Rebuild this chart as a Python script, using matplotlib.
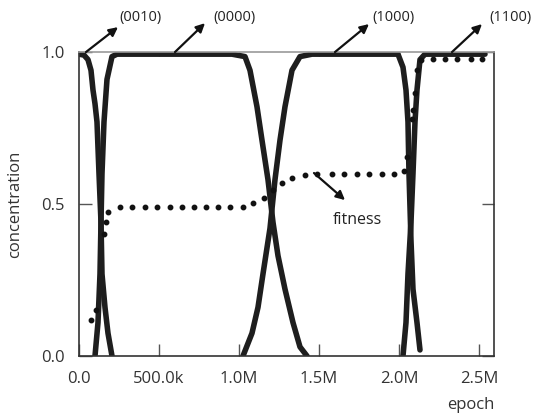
import matplotlib
matplotlib.use("Agg")
import matplotlib.pyplot as plt

plt.rcParams['font.family'] = ['Open Sans', 'DejaVu Sans']

# concentration curves (epoch, concentration)
x_0010 = [0, 31250, 56250, 75000, 87500, 100000, 112500, 125000, 137500, 143750,
          162500, 181250, 206250]
y_0010 = [0.993, 0.99, 0.975, 0.94, 0.875, 0.83, 0.77, 0.6, 0.44, 0.27,
          0.16, 0.075, 0.0]

x_0000 = [100000, 118750, 131250, 137500, 143750, 156250, 175000, 206250, 237500,
          956250, 1037500, 1068750, 1112500, 1143750, 1181250, 1212500, 1243750,
          1287500, 1337500, 1381250, 1425000]
y_0000 = [0.0, 0.11, 0.27, 0.44, 0.6, 0.77, 0.91, 0.985, 0.993,
          0.993, 0.985, 0.94, 0.82, 0.71, 0.58, 0.44, 0.33,
          0.22, 0.11, 0.03, 0.0]

x_1000 = [1025000, 1081250, 1118750, 1150000, 1193750, 1225000, 1256250, 1287500,
          1331250, 1381250, 1456250, 1993750, 2025000, 2043750, 2056250, 2062500,
          2075000, 2087500, 2112500, 2131250]
y_1000 = [0.0, 0.075, 0.16, 0.27, 0.42, 0.58, 0.71, 0.82,
          0.94, 0.985, 0.993, 0.993, 0.95, 0.875, 0.77, 0.6,
          0.38, 0.22, 0.11, 0.02]

x_1100 = [2025000, 2043750, 2056250, 2075000, 2087500, 2100000, 2112500, 2131250,
          2162500, 2537500]
y_1100 = [0.0, 0.11, 0.27, 0.44, 0.6, 0.77, 0.875, 0.975, 0.993, 0.993]

# fitness
x_fit = [75000, 106250, 156250, 168750, 181250, 256250, 331250, 412500, 487500,
         568750, 643750, 718750, 793750, 868750, 943750, 1025000, 1087500, 1156250,
         1212500, 1268750, 1331250, 1412500, 1487500, 1581250, 1656250, 1737500,
         1812500, 1893750, 1968750, 2031250, 2050000, 2081250, 2087500, 2100000,
         2112500, 2137500, 2212500, 2287500, 2362500, 2450000, 2518750]
y_fit = [0.12, 0.15, 0.40, 0.44, 0.475, 0.49, 0.49, 0.49, 0.49,
         0.49, 0.49, 0.49, 0.49, 0.49, 0.49, 0.49, 0.505, 0.52,
         0.545, 0.57, 0.585, 0.595, 0.60, 0.60, 0.60, 0.60,
         0.60, 0.60, 0.60, 0.61, 0.655, 0.78, 0.81, 0.865,
         0.94, 0.975, 0.978, 0.978, 0.978, 0.978, 0.978]

xticks = [0, 500000, 1000000, 1500000, 2000000, 2500000]
xticklabels = ["0.0", "500.0k", "1.0M", "1.5M", "2.0M", "2.5M"]
yticks = [0.0, 0.5, 1.0]
yticklabels = ["0.0", "0.5", "1.0"]

# arrow annotations: label, tail (on curve), head, text position
labels = ["(0010)", "(0000)", "(1000)", "(1100)"]
tails = [(43750, 1.0), (600000, 1.0), (1600000, 1.0), (2331250, 1.0)]
heads = [(243750, 1.082), (787500, 1.095), (1812500, 1.092), (2518750, 1.092)]
text_pos = [(250000, 1.112), (837500, 1.112), (1831250, 1.112), (2562500, 1.112)]

fig = plt.figure(figsize=(5.37, 4.13), dpi=100)
ax = fig.add_axes([0.1471, 0.138, 0.7728, 0.736])

line_col = '#1e1e1e'
for xs, ys in [(x_0010, y_0010), (x_0000, y_0000), (x_1000, y_1000), (x_1100, y_1100)]:
    ax.plot(xs, ys, color=line_col, lw=4, solid_joinstyle='round', solid_capstyle='round')

ax.plot(x_fit, y_fit, ls='none', marker='o', ms=3.2, color='#111111')

ax.set_xlim(0, 2593750)
ax.set_ylim(0, 1.0)

ax.set_xticks(xticks)
ax.set_xticklabels(xticklabels)
ax.set_yticks(yticks)
ax.set_yticklabels(yticklabels)
ax.tick_params(axis='x', direction='in', length=9, width=1, color='#555555',
               labelsize=12, pad=11, top=True)
ax.tick_params(axis='y', direction='in', length=9, width=1, color='#555555',
               labelsize=12, pad=10, right=True)
for t in ax.xaxis.get_major_ticks():
    t.tick2line.set_markersize(3)
ax.tick_params(labelcolor='#333333')

for s in ['left', 'bottom', 'right']:
    ax.spines[s].set_color('#333333')
    ax.spines[s].set_linewidth(1.2)
ax.spines['top'].set_color('#999999')
ax.spines['top'].set_linewidth(1.2)

ax.set_ylabel("concentration", fontsize=12, color='#333333')
ax.yaxis.set_label_coords(-0.135, 0.5)
ax.set_xlabel("epoch", fontsize=12, color='#333333')
ax.xaxis.set_label_coords(0.943, -0.135)

arrow_kw = dict(arrowstyle='-|>', color='#111111', lw=1.6, mutation_scale=13,
                shrinkA=0, shrinkB=0)
for lab, tail, head, tp in zip(labels, tails, heads, text_pos):
    ax.annotate('', xy=head, xytext=tail, arrowprops=arrow_kw, annotation_clip=False)
    ax.text(tp[0], tp[1], lab, fontsize=10.5, color='#222222', ha='left', va='center',
            clip_on=False)

ax.annotate('', xy=(1662500, 0.513), xytext=(1468750, 0.602), arrowprops=arrow_kw)
ax.text(1737500, 0.447, "fitness", fontsize=11.5, color='#222222', ha='center', va='center')

fig.savefig("out.png", dpi=100)
